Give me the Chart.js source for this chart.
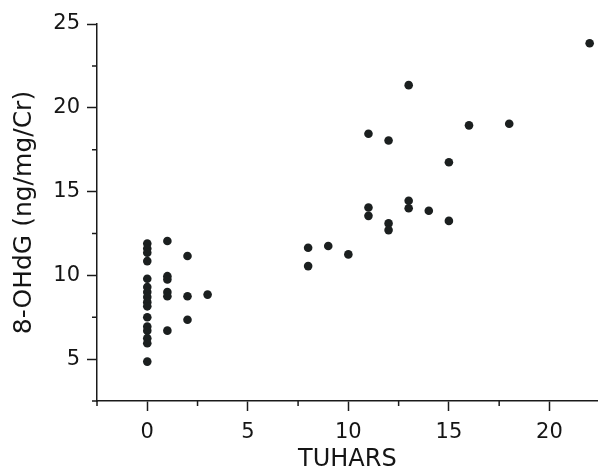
<!DOCTYPE html>
<html>
<head>
<meta charset="utf-8">
<script src="https://cdn.jsdelivr.net/npm/chart.js@4.4.1/dist/chart.umd.min.js"></script>
<style>
  html, body { margin: 0; padding: 0; background: #fff; }
  #wrap { width: 602px; height: 472px; }
</style>
</head>
<body>
<div id="wrap"><canvas id="ohdgChart"></canvas></div>
<script>
// TUHARS (x) and 8-OHdG (y), one entry per subject
const tuhars = [
  0, 0, 0, 0, 0, 0, 0, 0, 0, 0, 0, 0, 0, 0, 0, 0,
  1, 1, 1, 1, 1, 1,
  2, 2, 2,
  3,
  8, 8,
  9,
  10,
  11, 11, 11,
  12, 12, 12,
  13, 13, 13,
  14,
  15, 15,
  16,
  18,
  22
];
const ohdg = [
  11.9, 11.6, 11.35, 10.85, 9.8, 9.3, 9.0, 8.7, 8.4, 8.15, 7.5, 6.95, 6.7, 6.25, 5.95, 4.85,
  12.05, 9.95, 9.75, 9.0, 8.75, 6.7,
  11.15, 8.75, 7.35,
  8.85,
  11.65, 10.55,
  11.75,
  11.25,
  18.45, 14.05, 13.55,
  18.05, 13.1, 12.7,
  21.35, 14.45, 14.0,
  13.85,
  16.75, 13.25,
  18.95,
  19.05,
  23.85
];
const xMinorTicks = [-2.5, 2.5, 7.5, 12.5, 17.5];
const yMinorTicks = [2.5, 7.5, 12.5, 17.5, 22.5];

const axisColor = '#1a1a1a';
const textColor = '#151515';
const fontFamily = '"DejaVu Sans", sans-serif';

// small unlabelled ticks between the numbered ones
const minorTicks = {
  id: 'minorTicks',
  afterDraw(chart) {
    const ctx = chart.ctx;
    const xs = chart.scales.x, ys = chart.scales.y;
    ctx.save();
    ctx.strokeStyle = axisColor;
    ctx.lineWidth = 1.5;
    ctx.beginPath();
    xMinorTicks.forEach(v => {
      const px = xs.getPixelForValue(v);
      ctx.moveTo(px, xs.top);
      ctx.lineTo(px, xs.top + 5);
    });
    yMinorTicks.forEach(v => {
      const py = ys.getPixelForValue(v);
      ctx.moveTo(ys.right, py);
      ctx.lineTo(ys.right - 5, py);
    });
    ctx.stroke();
    ctx.restore();
  }
};

const points = tuhars.map((x, i) => ({ x: x, y: ohdg[i] }));

new Chart(document.getElementById('ohdgChart').getContext('2d'), {
  type: 'scatter',
  data: {
    datasets: [{
      data: points,
      backgroundColor: '#1b1f1f',
      borderColor: '#1b1f1f',
      borderWidth: 0,
      pointRadius: 4.3,
      pointHoverRadius: 4.3
    }]
  },
  options: {
    responsive: true,
    maintainAspectRatio: false,
    animation: false,
    layout: { padding: { top: 24, right: 0, bottom: 0, left: 0 } },
    scales: {
      x: {
        type: 'linear',
        position: 'bottom',
        min: -2.5,
        max: 22.4,
        afterFit: s => { s.height = 71; },
        ticks: {
          stepSize: 5,
          includeBounds: false,
          color: textColor,
          padding: 9,
          font: { family: fontFamily, size: 21 }
        },
        grid: {
          drawOnChartArea: false,
          tickLength: 10,
          tickColor: axisColor,
          tickWidth: 1.5
        },
        border: { color: axisColor, width: 1.5 },
        title: {
          display: true,
          text: 'TUHARS',
          color: textColor,
          padding: 0,
          font: { family: fontFamily, size: 24, lineHeight: 1 }
        }
      },
      y: {
        min: 2.5,
        max: 25,
        afterFit: s => { s.width = 97; },
        ticks: {
          stepSize: 5,
          includeBounds: false,
          color: textColor,
          padding: 7,
          font: { family: fontFamily, size: 21 }
        },
        grid: {
          drawOnChartArea: false,
          tickLength: 10,
          tickColor: axisColor,
          tickWidth: 1.5
        },
        border: { color: axisColor, width: 1.5 },
        title: {
          display: true,
          text: '8-OHdG (ng/mg/Cr)',
          color: textColor,
          padding: { top: 12, bottom: 0 },
          font: { family: fontFamily, size: 25, lineHeight: 1 }
        }
      }
    },
    plugins: {
      legend: { display: false },
      title: { display: false },
      tooltip: { enabled: false }
    }
  },
  plugins: [minorTicks]
});
</script>
</body>
</html>
